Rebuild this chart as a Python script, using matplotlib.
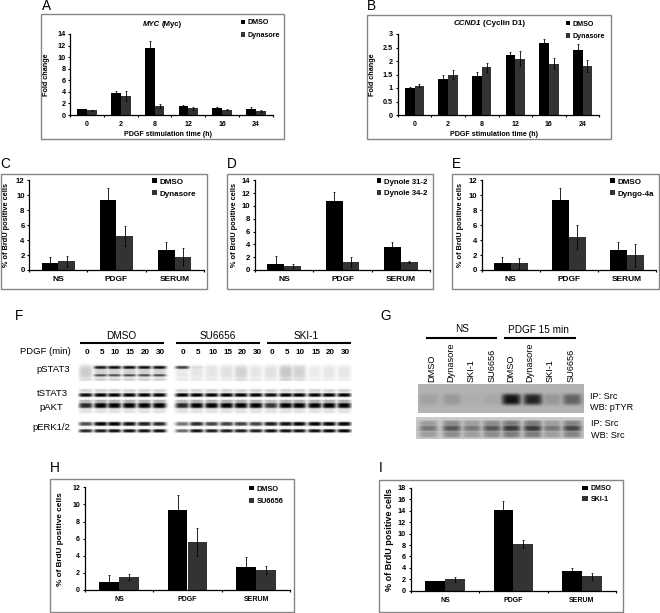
import numpy as np
import matplotlib
matplotlib.use("Agg")
import matplotlib.pyplot as plt
from matplotlib.patches import Rectangle

plt.rcParams["font.family"] = ["Liberation Sans", "DejaVu Sans"]

W, H = 660, 613
DPI = 100
FRAME_GRAY = "#858585"
BAR_DARK = "#000000"
BAR_GRAY = "#333333"

# ── DATA ───────────────────────────────────────────

TIMES = ["0", "2", "8", "12", "16", "24"]
TREATMENTS = ["NS", "PDGF", "SERUM"]

A_DMSO = [1.0, 3.8, 11.5, 1.5, 1.2, 1.05]
A_DMSO_ERR = [0.05, 0.4, 1.25, 0.15, 0.1, 0.3]
A_DYNA = [0.85, 3.25, 1.5, 1.2, 0.9, 0.75]
A_DYNA_ERR = [0.1, 0.85, 0.35, 0.25, 0.1, 0.2]

B_DMSO = [1.0, 1.35, 1.43, 2.23, 2.65, 2.42]
B_DMSO_ERR = [0.02, 0.15, 0.18, 0.1, 0.17, 0.2]
B_DYNA = [1.09, 1.5, 1.76, 2.08, 1.9, 1.8]
B_DYNA_ERR = [0.05, 0.18, 0.15, 0.28, 0.2, 0.22]

C_DMSO = [0.95, 9.35, 2.65]
C_DMSO_ERR = [0.8, 1.65, 1.1]
C_DYNA = [1.15, 4.55, 1.8]
C_DYNA_ERR = [0.7, 1.3, 1.2]

D_312 = [0.95, 10.7, 3.55]
D_312_ERR = [1.2, 1.5, 0.85]
D_342 = [0.6, 1.2, 1.25]
D_342_ERR = [0.3, 0.8, 0.2]

E_DMSO = [0.95, 9.35, 2.7]
E_DMSO_ERR = [0.8, 1.65, 1.1]
E_DYNGO = [0.9, 4.4, 1.95]
E_DYNGO_ERR = [0.7, 1.65, 1.5]

H_DMSO = [0.95, 9.35, 2.65]
H_DMSO_ERR = [0.85, 1.7, 1.15]
H_SU = [1.55, 5.6, 2.3]
H_SU_ERR = [0.35, 1.6, 0.45]

I_DMSO = [1.65, 14.2, 3.4]
I_DMSO_ERR = [0.05, 1.5, 0.5]
I_SKI = [2.0, 8.2, 2.5]
I_SKI_ERR = [0.4, 0.7, 0.55]

# western blot lane intensities, 0 = no band, 1 = saturated
F_DOSES = ["0", "5", "10", "15", "20", "30"]
F_PSTAT3_TOP = [0.15, 0.9, 0.95, 0.95, 0.95, 0.95,
                0.75, 0.15, 0.1, 0.08, 0.12, 0.08,
                0.08, 0.15, 0.15, 0.06, 0.07, 0.07]
F_PSTAT3_LOW = [0.15, 0.7, 0.7, 0.7, 0.7, 0.7,
                0.1, 0.1, 0.1, 0.1, 0.15, 0.1,
                0.1, 0.22, 0.15, 0.08, 0.08, 0.08]
F_SMEAR = [0.2, 0.18, 0.18, 0.18, 0.18, 0.18,
           0.08, 0.1, 0.1, 0.12, 0.18, 0.1,
           0.12, 0.22, 0.18, 0.08, 0.1, 0.1]
F_TSTAT3 = [0.95, 1.0, 1.0, 1.0, 1.0, 1.0,
            1.0, 1.0, 1.0, 1.0, 1.0, 1.0,
            0.95, 1.0, 1.0, 1.0, 1.0, 1.0]
F_PAKT = [0.85, 1.0, 1.0, 1.0, 1.0, 1.0,
          0.85, 1.0, 1.0, 1.0, 1.0, 1.0,
          0.8, 1.0, 1.0, 1.0, 1.0, 1.0]
F_PERK_TOP = [0.7, 1.0, 1.0, 0.95, 0.9, 0.85,
              0.55, 0.85, 0.75, 0.75, 0.75, 0.75,
              0.9, 0.95, 1.0, 1.0, 1.0, 1.0]
F_PERK_LOW = [0.85, 0.9, 0.95, 0.95, 0.95, 0.95,
              0.6, 0.95, 0.9, 0.9, 0.9, 0.9,
              0.95, 0.95, 0.95, 0.95, 1.0, 1.0]

G_LANES = ["DMSO", "Dynasore", "SKI-1", "SU6656", "DMSO", "Dynasore", "SKI-1", "SU6656"]
G_PTYR = [0.1, 0.14, 0.03, 0.06, 0.9, 0.8, 0.15, 0.45]
G_SRC = [0.42, 0.58, 0.42, 0.58, 0.72, 0.72, 0.42, 0.66]

# ── HELPERS ────────────────────────────────────────

fig = plt.figure(figsize=(W / DPI, H / DPI), dpi=DPI)
page = fig.add_axes([0, 0, 1, 1])
page.set_xlim(0, W)
page.set_ylim(H, 0)
page.axis("off")


def label(x, y, s, size=7, ha="center", **kw):
    page.text(x, y, s, fontsize=size, ha=ha, va="center", **kw)


def bar_panel(frame, box, ymax, ystep, cats, s1, e1, s2, e2, names, ylabel, leg,
              tick_fs=5.2, cat_fs=5.0, ylab_fs=5.2, leg_fs=5.1, xlabel=None,
              ylab_x=None, handle_w=0.6):
    fx0, fy0, fx1, fy1 = frame
    page.add_patch(Rectangle((fx0, fy0), fx1 - fx0, fy1 - fy0, fill=False,
                             edgecolor=FRAME_GRAY, lw=1.0))

    x0, ytop, x1, ybot = box
    ax = fig.add_axes([x0 / W, 1 - ybot / H, (x1 - x0) / W, (ybot - ytop) / H])
    ax.patch.set_alpha(0)

    n = len(cats)
    pos = np.arange(n)
    w = 0.29
    err_kw = dict(ecolor="black", elinewidth=0.6, capsize=0.8, capthick=0.5)
    b1 = ax.bar(pos - w / 2, s1, w, color=BAR_DARK, yerr=e1, error_kw=err_kw)
    b2 = ax.bar(pos + w / 2, s2, w, color=BAR_GRAY, yerr=e2, error_kw=err_kw)

    ax.set_xlim(-0.5, n - 0.5)
    ax.set_ylim(0, ymax)
    ax.set_yticks(np.arange(0, ymax + ystep / 2, ystep))
    ax.set_yticklabels([f"{v:g}" for v in np.arange(0, ymax + ystep / 2, ystep)],
                       fontsize=tick_fs, fontweight="bold")
    ax.set_xticks(np.arange(n + 1) - 0.5)
    ax.set_xticklabels([])
    ax.set_xticks(pos, minor=True)
    ax.set_xticklabels(cats, minor=True, fontsize=cat_fs, fontweight="bold")
    ax.tick_params(axis="x", which="minor", length=0, pad=4.2)
    ax.tick_params(axis="x", which="major", length=1.6, width=0.8, direction="out")
    ax.tick_params(axis="y", length=1.6, width=0.8, direction="out", pad=1.8)
    for s in ("top", "right"):
        ax.spines[s].set_visible(False)
    for s in ("left", "bottom"):
        ax.spines[s].set_linewidth(0.9)

    if ylab_x is None:
        ylab_x = x0 - 24
    label(ylab_x, (ytop + ybot) / 2, ylabel, size=ylab_fs, rotation=90, fontweight="bold")
    if xlabel:
        label((x0 + x1) / 2 - 4, fy1 - 5.3, xlabel, size=5.1, fontweight="bold")

    # legend placed in page pixels: handle left edge, first row centre, row pitch
    lx, ly, pitch = leg
    fs_px = leg_fs * DPI / 72
    lg = ax.legend([b1, b2], names, loc="upper left",
                   bbox_to_anchor=(lx, ly - fs_px * 0.42), bbox_transform=page.transData,
                   frameon=False, borderpad=0, borderaxespad=0,
                   handlelength=handle_w, handleheight=0.6, handletextpad=0.35,
                   labelspacing=(pitch - fs_px * 0.92) / fs_px,
                   prop={"size": leg_fs, "weight": "bold"})
    return ax


def gel(x0, x1, y0, y1, background, lanes, rows, half_w=7.0, scale=3):
    # rows: (band centre y, half thickness, per-lane intensity list)
    xs = np.linspace(x0, x1, int((x1 - x0) * scale))
    ys = np.linspace(y0, y1, int((y1 - y0) * scale))
    xx, yy = np.meshgrid(xs, ys)
    dark = np.zeros_like(xx)
    for yc, sig, vals in rows:
        for lx, v in zip(lanes, vals):
            prof_x = np.exp(-(((xx - lx) / half_w) ** 4))
            prof_y = np.exp(-(((yy - yc) / sig) ** 4))
            dark = np.maximum(dark, v * prof_x * prof_y)
    img = background * (1 - dark)
    page.imshow(img, cmap="gray", vmin=0, vmax=1, extent=(x0, x1, y1, y0),
                interpolation="bilinear", aspect="auto", zorder=1)


# ── CHART PANELS ───────────────────────────────────

ax_a = bar_panel((40.7, 14.3, 284, 139.3), (70.3, 34, 272.7, 115), 14, 2, TIMES,
                 A_DMSO, A_DMSO_ERR, A_DYNA, A_DYNA_ERR, ["DMSO", "Dynasore"],
                 "Fold change", (240.7, 22.3, 12),
                 xlabel="PDGF stimulation time (h)", ylab_x=46)
page.text(160.5, 24.3, "MYC", fontsize=5.6, ha="right", va="center",
          fontweight="bold", fontstyle="italic")
page.text(161.8, 24.3, "(Myc)", fontsize=5.6, ha="left", va="center", fontweight="bold")

ax_b = bar_panel((367.3, 15.3, 611, 139.3), (397.7, 34, 599.3, 115), 3, 0.5, TIMES,
                 B_DMSO, B_DMSO_ERR, B_DYNA, B_DYNA_ERR, ["DMSO", "Dynasore"],
                 "Fold change", (565.7, 23.7, 12),
                 xlabel="PDGF stimulation time (h)", ylab_x=373)
page.text(481, 23.7, "CCND1", fontsize=5.8, ha="right", va="center",
          fontweight="bold", fontstyle="italic")
page.text(482.8, 23.7, "(Cyclin D1)", fontsize=5.8, ha="left", va="center", fontweight="bold")

YLAB = "% of BrdU positive cells"
ax_c = bar_panel((0.5, 174, 207, 289.3), (29.3, 180.3, 203.7, 270), 12, 2, TREATMENTS,
                 C_DMSO, C_DMSO_ERR, C_DYNA, C_DYNA_ERR, ["DMSO", "Dynasore"],
                 YLAB, (151.7, 181.7, 12), tick_fs=5.6, cat_fs=6.0, ylab_fs=5.3, leg_fs=5.8,
                 ylab_x=7)
ax_d = bar_panel((227, 174, 433.3, 289.3), (255, 180.3, 430, 270), 14, 2, TREATMENTS,
                 D_312, D_312_ERR, D_342, D_342_ERR, ["Dynole 31-2", "Dynole 34-2"],
                 YLAB, (376.7, 181.7, 11.5), tick_fs=5.6, cat_fs=6.0, ylab_fs=5.3, leg_fs=5.6,
                 ylab_x=235)
ax_e = bar_panel((452.3, 174, 658.5, 289.3), (481.7, 180.3, 655.7, 270), 12, 2, TREATMENTS,
                 E_DMSO, E_DMSO_ERR, E_DYNGO, E_DYNGO_ERR, ["DMSO", "Dyngo-4a"],
                 YLAB, (610, 181.7, 12), tick_fs=5.6, cat_fs=6.0, ylab_fs=5.3, leg_fs=5.8,
                 ylab_x=460)
ax_h = bar_panel((50.3, 479.3, 293.7, 612), (84.7, 487.3, 290.3, 590), 12, 2, TREATMENTS,
                 H_DMSO, H_DMSO_ERR, H_SU, H_SU_ERR, ["DMSO", "SU6656"],
                 YLAB, (249.3, 488.7, 12), tick_fs=5.0, cat_fs=5.0, ylab_fs=5.9, leg_fs=5.3,
                 ylab_x=61)
ax_i = bar_panel((378.7, 479.7, 622.7, 612), (410.7, 488, 616, 590.7), 18, 2, TREATMENTS,
                 I_DMSO, I_DMSO_ERR, I_SKI, I_SKI_ERR, ["DMSO", "SKI-1"],
                 YLAB, (581.7, 488.3, 10), tick_fs=5.2, cat_fs=5.0, ylab_fs=6.5, leg_fs=5.0,
                 ylab_x=390, handle_w=0.9)

# ── PANEL LETTERS ──────────────────────────────────

LETTERS = {"A": (41.5, 5.8), "B": (367, 5.5), "C": (0.5, 163.5), "D": (226.5, 163.5),
           "E": (452, 163.5), "F": (15, 316), "G": (380.5, 316), "H": (49.5, 468),
           "I": (378.5, 468)}
for k, (x, y) in LETTERS.items():
    label(x, y, k, size=9.8, ha="left")

# ── BLOT F ─────────────────────────────────────────

F_LANES = [85.7, 100.7, 114.3, 129.3, 144.3, 159.3,
           182.3, 196.7, 211.7, 226.7, 241, 256,
           271, 286, 299.3, 315, 329.3, 344.3]

gel(78, 352, 360, 438, 1.0, F_LANES, [
    (372, 7.0, F_SMEAR),
    (367.3, 1.6, F_PSTAT3_TOP),
    (375.2, 1.3, F_PSTAT3_LOW),
    (379.5, 1.3, [min(v, 0.2) for v in F_PSTAT3_LOW]),
    (390.5, 1.6, [0.18] * 18),
    (395, 1.9, F_TSTAT3),
    (401, 1.3, [v * 0.35 for v in F_PAKT]),
    (405.5, 2.8, F_PAKT),
    (411, 2.5, [0.12] * 18),
    (424, 2.0, F_PERK_TOP),
    (431, 1.7, F_PERK_LOW),
])

for (name, cx, a, b) in [("DMSO", 121, 80, 164), ("SU6656", 217.3, 175.7, 260),
                         ("SKI-1", 305.7, 267.3, 350.7)]:
    label(cx, 336, name, size=7.2)
    page.plot([a, b], [343, 343], color="black", lw=1.5, solid_capstyle="butt")

for lx, dose in zip(F_LANES, F_DOSES * 3):
    label(lx + 1, 352.5, dose, size=5.8, fontweight="bold")

label(70.3, 351.5, "PDGF (min)", size=6.8, ha="right")
label(70.3, 369.3, "pSTAT3", size=6.8, ha="right")
label(68.3, 393.3, "tSTAT3", size=6.8, ha="right")
label(63.3, 407.3, "pAKT", size=6.8, ha="right")
label(70.3, 427.3, "pERK1/2", size=6.8, ha="right")

# ── BLOT G ─────────────────────────────────────────

G_X = [431.7, 451, 471, 491.7, 510.7, 530, 550, 570.7]
G_BANDS = [428.3, 451.7, 471.7, 491.7, 511, 532.3, 551.7, 571.7]

gel(417.7, 583.3, 385, 413.3, 0.7, G_BANDS, [(400, 5.5, G_PTYR)], half_w=9.5)
gel(416, 583.3, 416.7, 438.7, 0.8, G_BANDS,
    [(423, 3.0, [v * 0.55 for v in G_SRC]), (428, 3.2, G_SRC), (434, 3.5, [v * 0.55 for v in G_SRC])],
    half_w=9.5)
page.set_xlim(0, W)
page.set_ylim(H, 0)

label(462.3, 328.5, "NS", size=7.2)
label(538.3, 330, "PDGF 15 min", size=7.2)
page.plot([425.7, 497.3], [337.7, 337.7], color="black", lw=1.5, solid_capstyle="butt")
page.plot([503.7, 575.7], [337.7, 337.7], color="black", lw=1.5, solid_capstyle="butt")
for lx, name in zip(G_X, G_LANES):
    page.text(lx, 381.7, name, fontsize=6.6, rotation=90, ha="center", va="bottom")

label(590, 396.7, "IP: Src", size=6.6, ha="left")
label(590, 407.7, "WB: pTYR", size=6.6, ha="left")
label(591, 424, "IP: Src", size=6.6, ha="left")
label(591, 436, "WB: Src", size=6.6, ha="left")

fig.savefig("out.png", dpi=DPI)
